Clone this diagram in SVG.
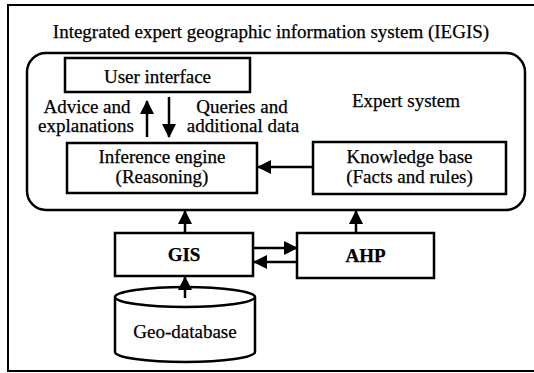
<svg xmlns="http://www.w3.org/2000/svg" width="534" height="373" viewBox="0 0 534 373" font-family="Liberation Serif, Tinos, Times New Roman, serif">
  <defs>
    <style>
      .box { fill: #fff; stroke: #000; stroke-width: 2.5; }
      .line { fill: none; stroke: #000; stroke-width: 2.5; }
      .t { font-family: 'Liberation Serif', Tinos, 'Times New Roman', serif; font-size: 19px; fill: #000; text-anchor: middle; stroke: #000; stroke-width: 0.25; }
      .b { font-weight: bold; }
    </style>
    <marker id="arrow" viewBox="0 0 14 14" refX="13" refY="7" markerWidth="14" markerHeight="14" markerUnits="userSpaceOnUse" orient="auto">
      <path d="M0,0 L14,7 L0,14 Z" fill="#000"/>
    </marker>
  </defs>
  <rect width="534" height="373" fill="#fff"/>

  <!-- outer frame (right side runs past the canvas edge) -->
  <g id="iegis">
    <rect x="8" y="5" width="540" height="366" fill="none" stroke="#000" stroke-width="2"/>
    <text class="t" x="271" y="38">Integrated expert geographic information system (IEGIS)</text>
  </g>

  <g id="expert-system">
    <rect x="27" y="53" width="498" height="157" rx="19" ry="19" fill="none" stroke="#000" stroke-width="2.5"/>
    <text class="t" x="406" y="107">Expert system</text>
  </g>

  <g id="user-interface">
    <rect class="box" x="65" y="58" width="185" height="34"/>
    <text class="t" x="157.5" y="83">User interface</text>
  </g>

  <g id="inference-engine">
    <rect class="box" x="67" y="143" width="190" height="50"/>
    <text class="t" x="162" y="163">Inference engine</text>
    <text class="t" x="162" y="183">(Reasoning)</text>
  </g>

  <g id="knowledge-base">
    <rect class="box" x="313" y="142" width="193" height="52"/>
    <text class="t" x="409.5" y="163">Knowledge base</text>
    <text class="t" x="409.5" y="183">(Facts and rules)</text>
  </g>

  <g id="gis">
    <rect class="box" x="115" y="233" width="138" height="43"/>
    <text class="t b" x="184" y="261">GIS</text>
  </g>

  <g id="ahp">
    <rect class="box" x="297" y="233" width="137" height="45"/>
    <text class="t b" x="365.5" y="262">AHP</text>
  </g>

  <g id="geo-database">
    <path d="M115,297 L115,352 A70,10 0 0 0 255,352 L255,297" class="box"/>
    <ellipse cx="185" cy="297" rx="70" ry="10" class="box"/>
    <text class="t" x="185" y="338">Geo-database</text>
  </g>

  <g id="connectors">
    <line class="line" x1="147" y1="137" x2="147" y2="101" marker-end="url(#arrow)"/>
    <line class="line" x1="169" y1="97" x2="169" y2="137" marker-end="url(#arrow)"/>
    <line class="line" x1="313" y1="167" x2="258" y2="167" marker-end="url(#arrow)"/>
    <line class="line" x1="185" y1="233" x2="185" y2="211" marker-end="url(#arrow)"/>
    <line class="line" x1="356" y1="233" x2="356" y2="211" marker-end="url(#arrow)"/>
    <line class="line" x1="253" y1="248" x2="297" y2="248" marker-end="url(#arrow)"/>
    <line class="line" x1="297" y1="262" x2="254" y2="262" marker-end="url(#arrow)"/>
    <line class="line" x1="185" y1="298" x2="185" y2="277" marker-end="url(#arrow)"/>
    <text class="t" x="87" y="113">Advice and</text>
    <text class="t" x="86" y="132">explanations</text>
    <text class="t" x="242" y="113">Queries and</text>
    <text class="t" x="243" y="132">additional data</text>
  </g>
</svg>
